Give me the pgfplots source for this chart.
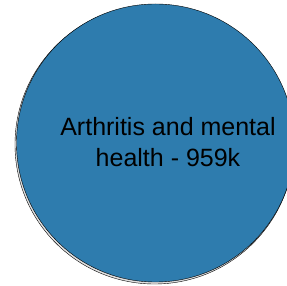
\documentclass[border=0pt]{standalone}
\usepackage{pgfplots}
\pgfplotsset{compat=1.18}
\usepackage{fontspec}
\setmainfont{Liberation Sans}
\definecolor{bub}{RGB}{46,124,174}
\begin{document}
\begin{tikzpicture}[x=1pt,y=1pt]
\begin{axis}[at={(0,0)},anchor=origin,scale only axis,width=286pt,height=286pt,
  xmin=0,xmax=286,ymin=0,ymax=286,hide axis,clip=false]
\addplot[overlay,only marks,mark=*,mark size=139.5pt,mark options={draw=none,fill=black,fill opacity=0.12}] coordinates {(154.5,141.5)};
\addplot[overlay,only marks,mark=*,mark size=139pt,mark options={draw=none,fill=bub}] coordinates {(155.5,143)};
\coordinate (lab) at (axis cs:168,144);
\coordinate (ll) at (axis cs:0,0);
\coordinate (ur) at (axis cs:286,286);
\end{axis}
\path (ll) rectangle (ur);
\node[align=center,font=\fontsize{25}{31}\selectfont,text=black] at (lab) {Arthritis and mental\\health - 959k};
\end{tikzpicture}
\end{document}
